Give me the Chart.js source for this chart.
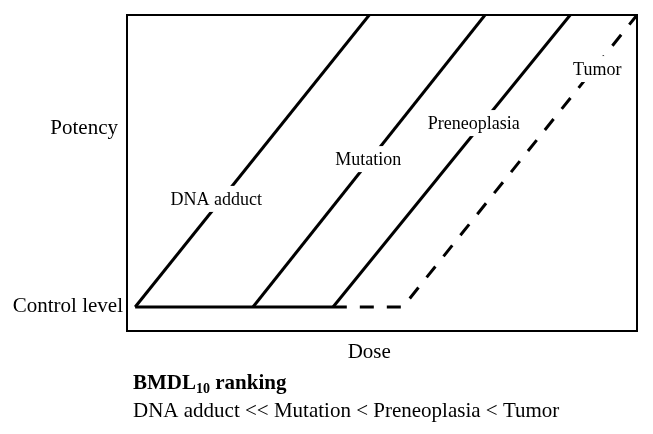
<!DOCTYPE html>
<html>
<head>
<meta charset="utf-8">
<script src="https://cdn.jsdelivr.net/npm/chart.js@4"></script>
<style>
  body { margin: 0; background: #fff; }
  #wrap { width: 653px; height: 434px; }
</style>
</head>
<body>
<div id="wrap"><canvas id="chart" width="653" height="434"></canvas></div>
<script>
// Schematic dose-response lines (x = dose, y = potency, both 0-100)
const controlLevel = 7.6;
const topLevel = 100;

const dnaAdductX = [1.6, 47.5];
const dnaAdductY = [controlLevel, topLevel];

const mutationX = [24.7, 70.2];
const mutationY = [controlLevel, topLevel];

const preneoplasiaX = [40.4, 86.9];
const preneoplasiaY = [controlLevel, topLevel];

// flat control line shared by all endpoints until the tumor dashed part starts
const controlX = [1.6, 43.1];
const controlY = [controlLevel, controlLevel];

const tumorX = [43.1, 54.1, 100];
const tumorY = [controlLevel, controlLevel, topLevel];

const lineLabels = ['DNA adduct', 'Mutation', 'Preneoplasia', 'Tumor'];
const rankingText = 'DNA adduct << Mutation < Preneoplasia < Tumor';

function pts(xs, ys) {
    return xs.map((x, i) => ({ x: x, y: ys[i] }));
}

// where the label boxes sit, in data units
const labelSpots = [[17.5, 41.8], [47.3, 54.4], [68.0, 65.8], [92.2, 82.9]];

const serif = '"Liberation Serif", "Times New Roman", serif';

const overlay = {
    id: 'overlay',
    afterDatasetsDraw(chart) {
        const ctx = chart.ctx;
        const a = chart.chartArea;
        const xs = chart.scales.x;
        const ys = chart.scales.y;
        ctx.save();

        // labels on the lines, with white boxes cutting the lines
        ctx.font = '18px ' + serif;
        ctx.textAlign = 'center';
        ctx.textBaseline = 'middle';
        lineLabels.forEach((txt, i) => {
            const px = xs.getPixelForValue(labelSpots[i][0]);
            const py = ys.getPixelForValue(labelSpots[i][1]);
            const w = ctx.measureText(txt).width;
            ctx.fillStyle = '#fff';
            ctx.fillRect(px - w / 2 - 3, py - 13, w + 6, 26);
            ctx.fillStyle = '#000';
            ctx.fillText(txt, px, py + 1);
        });

        // frame
        ctx.strokeStyle = '#000';
        ctx.lineWidth = 2;
        ctx.strokeRect(a.left, a.top, a.right - a.left, a.bottom - a.top);

        // axis texts
        ctx.font = '21px ' + serif;
        ctx.textAlign = 'right';
        ctx.fillText('Potency', a.left - 9, ys.getPixelForValue(64));
        ctx.fillText('Control level', a.left - 4, ys.getPixelForValue(controlLevel));
        ctx.textAlign = 'center';
        ctx.fillText('Dose', xs.getPixelForValue(47.5), a.bottom + 21);

        // ranking note
        ctx.textAlign = 'left';
        let x0 = a.left + 6;
        let y0 = a.bottom + 53;
        ctx.font = 'bold 21px ' + serif;
        ctx.fillText('BMDL', x0, y0);
        x0 += ctx.measureText('BMDL').width;
        ctx.font = 'bold 14px ' + serif;
        ctx.fillText('10', x0, y0 + 5);
        x0 += ctx.measureText('10').width;
        ctx.font = 'bold 21px ' + serif;
        ctx.fillText(' ranking', x0, y0);

        ctx.font = '21px ' + serif;
        ctx.fillText(rankingText, a.left + 6, y0 + 27);
        ctx.restore();
    }
};

const solid = { borderColor: '#000', borderWidth: 3, pointRadius: 0, fill: false, tension: 0 };

new Chart(document.getElementById('chart').getContext('2d'), {
    type: 'scatter',
    data: {
        datasets: [
            Object.assign({ label: 'Control', data: pts(controlX, controlY), showLine: true }, solid),
            Object.assign({ label: 'DNA adduct', data: pts(dnaAdductX, dnaAdductY), showLine: true }, solid),
            Object.assign({ label: 'Mutation', data: pts(mutationX, mutationY), showLine: true }, solid),
            Object.assign({ label: 'Preneoplasia', data: pts(preneoplasiaX, preneoplasiaY), showLine: true }, solid),
            Object.assign({ label: 'Tumor', data: pts(tumorX, tumorY), showLine: true,
                borderDash: [14, 13], borderDashOffset: 14 }, solid)
        ]
    },
    options: {
        responsive: false,
        animation: false,
        layout: { padding: { left: 127, top: 15, right: 16, bottom: 103 } },
        plugins: { legend: { display: false }, tooltip: { enabled: false } },
        scales: {
            x: { type: 'linear', min: 0, max: 100, display: false },
            y: { type: 'linear', min: 0, max: 100, display: false }
        }
    },
    plugins: [overlay]
});
</script>
</body>
</html>
